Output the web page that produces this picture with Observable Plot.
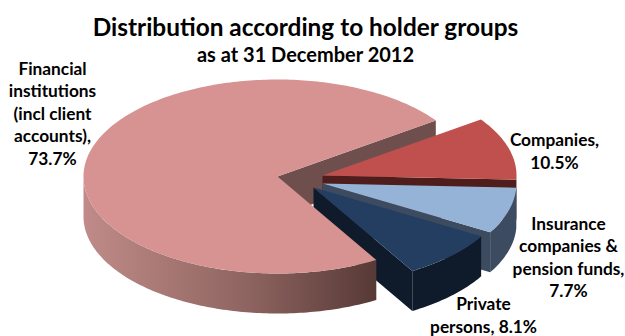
<!DOCTYPE html>
<html>
<head>
<meta charset="utf-8">
<script src="https://cdn.jsdelivr.net/npm/d3@7"></script>
<script src="https://cdn.jsdelivr.net/npm/@observablehq/plot@0.6"></script>
<style>
  html, body { margin: 0; background: #fff; }
  svg { display: block; }
</style>
</head>
<body>
<div id="chart"></div>
<script>
// Holder groups, clockwise from the upper right of the pie
const groups = ["Companies", "Insurance companies & pension funds", "Private persons", "Financial institutions"];
const shares = [10.5, 7.7, 8.1, 73.7];
const labelTexts = [
  "Companies,\n{v}%",
  "Insurance\ncompanies &\npension funds,\n{v}%",
  "Private\npersons, {v}%",
  "Financial\ninstitutions\n(incl client\naccounts),\n{v}%"
];
const titleText = "Distribution according to holder groups";
const subtitleText = "as at 31 December 2012";

// Face colours per group: top, cut wall, rim
const topColors = ["#c0504d", "#95b3d7", "#233e60", "#d69392"];
const wallColors = ["#4f1d1b", "#3c4b5f", "#0f1b2b", "#6f4f4d"];
const rimColors = ["#4f1d1b", "#3c4b5f", "#0f1b2b", "url(#rim)"];

// Pie layout: the chart's scales use the ellipse radii as one unit
const width = 625, height = 336;
const rx = 194, ry = 97;
const originX = 277, originY = 176;
const depth = 40 / ry;
const startAngle = -35.3;
const explode = [[45 / rx, -1 / ry], [45 / rx, 7 / ry], [36 / rx, 11 / ry], [0, 0]];

const ends = d3.cumsum(shares).map(s => startAngle + s * 3.6);
const slices = groups.map((group, i) => ({
  group,
  a0: i ? ends[i - 1] : startAngle,
  a1: ends[i],
  cx: explode[i][0],
  cy: explode[i][1]
}));

const rad = d => d * Math.PI / 180;
const rim = (s, a, dy = 0) => ({ x: s.cx + Math.cos(rad(a)), y: s.cy + Math.sin(rad(a)) + dy });

function arc(s, a0, a1, dy = 0) {
  const n = Math.max(1, Math.ceil(a1 - a0));
  return d3.range(n + 1).map(k => rim(s, a0 + (a1 - a0) * k / n, dy));
}
const topFace = s => [{ x: s.cx, y: s.cy }, ...arc(s, s.a0, s.a1)];
const sideFace = s => {
  // Only the part of the rim turned toward the viewer is drawn
  const a0 = Math.max(s.a0, 0), a1 = Math.min(s.a1, 180);
  return a1 > a0 ? [...arc(s, a0, a1), ...arc(s, a0, a1, depth).reverse()] : [];
};
const wallFace = s => {
  const e = rim(s, s.a1), b = rim(s, s.a1, depth);
  return [{ x: s.cx, y: s.cy }, e, b, { x: s.cx, y: s.cy + depth }];
};

const face = (points, fill) => Plot.line(points, {
  x: "x", y: "y", fill, stroke: "none", curve: "linear-closed"
});

const rimGradient = () => {
  const defs = d3.create("svg:defs");
  const g = defs.append("linearGradient").attr("id", "rim");
  g.append("stop").attr("offset", "0%").attr("stop-color", "#c08b88");
  g.append("stop").attr("offset", "55%").attr("stop-color", "#8f6561");
  g.append("stop").attr("offset", "100%").attr("stop-color", "#573936");
  return defs.node();
};

// Back-to-front: the large slice's cut wall, the three pulled-out slices, then the large slice
const faces = [];
faces.push(face(wallFace(slices[3]), wallColors[3]));
[0, 1, 2].forEach(i => {
  faces.push(face(wallFace(slices[i]), wallColors[i]));
  const side = sideFace(slices[i]);
  if (side.length) faces.push(face(side, rimColors[i]));
  faces.push(face(topFace(slices[i]), topColors[i]));
});
faces.push(face(sideFace(slices[3]), rimColors[3]));
faces.push(face(topFace(slices[3]), topColors[3]));

const font = "Lato, 'Open Sans', sans-serif";
const labelAt = [[554, 150], [568, 256], [483, 314], [52, 112]];
const caption = (text, x, y, size) => Plot.text([text], {
  text: d => d, frameAnchor: "top-left", dx: x, dy: y, textAnchor: "middle", lineAnchor: "middle",
  fontFamily: font, fontWeight: 700, fontSize: size, lineHeight: 1.3, fill: "#000"
});

const plot = Plot.plot({
  width, height,
  margin: 0,
  x: { domain: [-originX / rx, (width - originX) / rx], range: [0, width], axis: null },
  y: { domain: [-originY / ry, (height - originY) / ry], range: [0, height], axis: null },
  style: { background: "#fff" },
  marks: [
    rimGradient,
    ...faces,
    caption(titleText, 305, 25, 24.4),
    caption(subtitleText, 305, 53, 20),
    ...labelTexts.map((t, i) => caption(t.replace("{v}", shares[i].toFixed(1)), labelAt[i][0], labelAt[i][1], 17.3))
  ]
});
document.getElementById("chart").append(plot);
</script>
</body>
</html>
